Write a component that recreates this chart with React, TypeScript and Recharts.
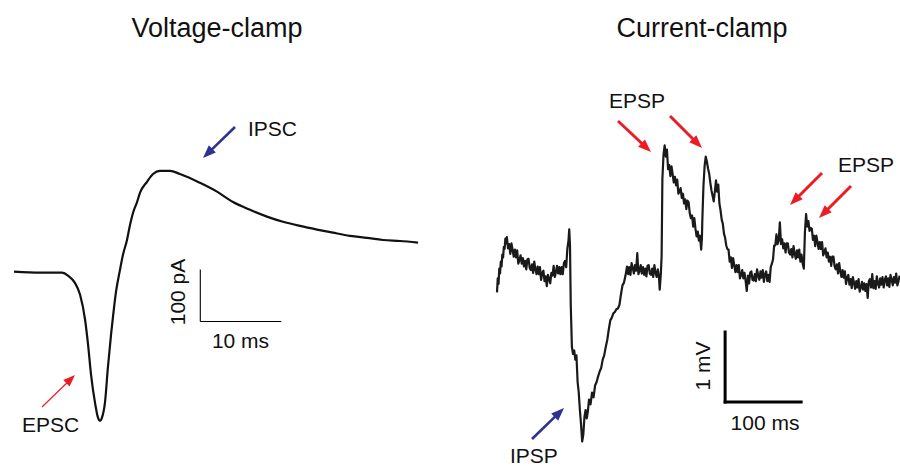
import React from 'react';
import { LineChart, Line, XAxis, YAxis, ReferenceLine } from 'recharts';

// Voltage-clamp trace: [time (ms), current (pA)]
const vcTrace: [number, number][] = [
  [0, 2], [3.2, 0], [5.9, 0], [6.7, -6], [7.5, -19], [8.15, -42], [8.77, -90], [9.14, -138],
  [9.51, -196], [10.0, -250], [10.37, -279], [10.62, -285], [10.86, -279], [11.23, -250],
  [11.6, -181], [11.98, -119], [12.22, -85], [12.59, -37], [13.09, 6], [13.46, 35], [13.95, 63],
  [14.32, 92], [14.69, 115], [15.19, 136], [15.56, 154], [16.42, 175], [17.16, 190], [18.02, 196],
  [19.26, 196], [20.49, 190], [22.96, 173], [25.06, 156], [27.04, 136], [29.14, 121], [31.23, 108],
  [33.21, 98], [35.31, 90], [37.41, 83], [39.38, 77], [41.48, 71], [43.58, 67], [45.56, 63],
  [47.65, 61], [49.88, 58],
];

// Current-clamp trace: [time (ms), membrane potential change (mV)]
const ccTrace: [number, number][] = [
  [0, -0.32], [1, -0.12], [2, -0.2], [3, 0.02], [4, -0.05], [5, 0.12], [6, 0.05], [7, 0.22], [8, 0.18], [9, 0.33], [10, 0.3], [11, 0.45], [12, 0.38],
  [13, 0.47], [14.5, 0.31], [16, 0.37], [17.5, 0.23], [19, 0.38], [20.5, 0.29], [22, 0.19], [23.5, 0.29], [25, 0.18], [26.5, 0.28], [28, 0.09], [29.5, 0.14], [31, 0.21], [32.5, 0.09], [34, 0.17], [35.5, 0.05], [37, 0.13], [38.5, 0.01], [40, 0.15], [41.5, 0.16], [43, 0.03], [44.5, 0.0], [46, 0.08], [47.5, -0.04], [49, 0.12], [50.5, 0.01], [52, -0.06], [53.5, 0.05], [55, -0.06], [56.5, 0.04], [58, -0.14], [59.5, -0.04], [61, -0.01], [62.5, -0.16], [64, -0.09], [65.5, -0.23], [67, -0.07], [68.5, -0.13], [70, -0.19], [71.5, -0.04], [73, -0.08], [74.5, 0.06], [76, -0.1], [77.5, -0.03], [79, 0.06], [80.5, -0.05], [82, 0.04], [83.5, -0.06], [85, 0.04], [86.5, -0.06], [88, 0.1], [89.5, 0.13], [91, 0.04], [92.5, 0.3], [94, 0.42], [95, 0.58], [96, 0.35],
  [97, -0.5], [98.5, -1.1], [100, -1.2], [101.5, -1.15], [103, -1.28], [104.5, -1.22], [106, -1.6], [107.5, -1.75], [109, -2.0], [110.5, -2.2], [112, -2.45], [113.5, -2.35], [115, -2.1], [116.5, -2.0], [118, -2.12], [119.5, -2.02], [121, -1.85], [123, -1.92], [125, -1.75], [127, -1.82], [129, -1.65], [131, -1.6], [133, -1.52], [135, -1.45], [137, -1.4], [139, -1.28], [141, -1.22], [143, -1.1], [145, -1.0], [147, -0.85], [149, -0.72], [151, -0.68], [153, -0.62], [155, -0.6], [157, -0.56], [159, -0.55], [161, -0.5], [163, -0.35], [165, -0.22], [167, -0.18], [169, -0.08],
  [171, 0.05], [172.5, -0.06], [174, 0.04], [175.5, -0.07], [177, 0.1], [178.5, 0.03], [180, -0.05], [181.5, 0.07], [183, -0.01], [184.5, 0.24], [186, -0.06], [187.5, -0.01], [189, 0.07], [190.5, -0.05], [192, 0.04], [193.5, -0.07], [195, 0.02], [196.5, -0.09], [198, 0.06], [199.5, 0.07], [201, -0.05], [202.5, -0.07], [204, 0.02], [205.5, -0.1], [207, 0.07], [208.5, -0.04], [210, -0.1], [211.5, 0.01], [213, -0.1], [214, -0.28], [215.5, -0.05], [216.5, 0.2],
  [217.5, 1.3], [219, 1.65], [220.5, 1.78], [222, 1.62], [223.5, 1.72], [225, 1.44], [226.5, 1.5], [228, 1.34], [229.5, 1.48], [231, 1.37], [232.5, 1.25], [234, 1.33], [235.5, 1.21], [237, 1.29], [238.5, 1.09], [240, 1.12], [241.5, 1.17], [243, 1.03], [244.5, 1.09], [246, 0.95], [247.5, 1.01], [249, 0.87], [250.5, 0.99], [252, 0.97], [253.5, 0.81], [255, 0.74], [256.5, 0.78], [258, 0.62], [259.5, 0.74], [261, 0.59], [262.5, 0.48], [264, 0.55], [265.5, 0.42], [267, 0.49], [268.5, 0.29], [269.5, 0.45],
  [270, 0.7], [271.5, 1.2], [273, 1.48], [274.5, 1.62], [276, 1.55], [277.5, 1.45], [279, 1.38], [280.5, 1.25], [282, 1.14], [283.5, 1.06], [285, 0.98], [286.5, 1.12], [288, 1.28], [289.5, 1.12], [291, 1.22], [292.5, 0.95], [294, 0.85], [295.5, 0.72], [297, 0.66], [298.5, 0.52], [300, 0.46], [301.5, 0.35], [303, 0.3],
  [304.5, 0.29], [306, 0.12], [307.5, 0.18], [309, 0.03], [310.5, 0.17], [312, 0.07], [313.5, -0.03], [315, 0.07], [316.5, -0.03], [318, 0.07], [319.5, -0.12], [321, -0.07], [322.5, 0.0], [324, -0.12], [325.5, -0.04], [327, -0.16], [328.5, -0.3], [330, -0.08], [331.5, -0.19], [333, -0.04], [334.5, -0.02], [336, -0.14], [337.5, -0.15], [339, -0.06], [340.5, -0.16], [342, 0.01], [343.5, -0.08], [345, -0.14], [346.5, -0.02], [348, -0.11], [349.5, 0.0], [351, -0.17], [352.5, -0.06], [354, -0.02], [355.5, -0.16], [357, -0.07], [358.5, -0.17], [360, 0.04],
  [361.5, 0.09], [363, 0.15], [364.5, 0.35], [366, 0.35], [367.5, 0.51], [369, 0.37], [370.5, 0.43], [372, 0.68], [373.5, 0.37], [375, 0.44], [376.5, 0.31], [378, 0.38], [379.5, 0.25], [381, 0.38], [382.5, 0.38], [384, 0.25], [385.5, 0.22], [387, 0.3], [388.5, 0.18], [390, 0.34], [391.5, 0.23], [393, 0.16], [394.5, 0.28], [396, 0.18], [397.5, 0.29], [399, 0.12], [400.5, 0.22], [402, 0.09], [403.5, 0.02],
  [405, 0.55], [406.5, 0.8], [408, 0.62], [409.5, 0.7], [411, 0.56], [412.5, 0.6],
  [414, 0.59], [415.5, 0.43], [417, 0.49], [418.5, 0.34], [420, 0.49], [421.5, 0.4], [423, 0.3], [424.5, 0.4], [426, 0.3], [427.5, 0.4], [429, 0.21], [430.5, 0.25], [432, 0.31], [433.5, 0.18], [435, 0.25], [436.5, 0.12], [438, 0.19], [439.5, 0.06], [441, 0.19], [442.5, 0.19], [444, 0.05], [445.5, 0.01], [447, 0.08], [448.5, -0.05], [450, 0.1], [451.5, -0.02], [453, -0.1], [454.5, 0.0], [456, -0.11], [457.5, -0.02], [459, -0.2], [460.5, -0.11], [462, -0.07], [463.5, -0.21], [465, -0.13], [466.5, -0.26], [468, -0.1], [469.5, -0.18], [471, -0.27], [472.5, -0.16], [474, -0.25], [475.5, -0.13], [477, -0.31], [478.5, -0.25], [480, -0.17], [481.5, -0.28], [483, -0.19], [484.5, -0.3], [486, -0.2], [487.5, -0.4], [489, -0.16], [490.5, -0.13], [492, -0.25], [493.5, -0.06], [495, -0.26], [496.5, -0.16], [498, -0.27], [499.5, -0.09], [501, -0.19], [502.5, -0.25], [504, -0.12], [505.5, -0.21], [507, -0.1], [508.5, -0.25], [510, -0.14], [511.5, -0.09], [513, -0.22], [514.5, -0.12], [516, -0.24], [517.5, -0.07], [519, -0.14], [520.5, -0.22], [522, -0.1], [523.5, -0.18], [525, -0.05], [526.5, -0.22], [528, -0.16], [529.5, -0.08],
];

// Scale bars: corner position and sizes in data units
const vcScaleBar = { t: 23, y: -94, lengthMs: 10, heightPa: 100 };
const ccScaleBar = { t: 300, y: -1.886, lengthMs: 100, heightMv: 1 };

const titles = ['Voltage-clamp', 'Current-clamp'];

const vcData = vcTrace.map(([t, v]) => ({ t, v }));
const ccData = ccTrace.map(([t, v]) => ({ t, v }));

const FONT = '"Liberation Sans", Arial, Helvetica, sans-serif';
const RED = '#ED1C24';
const BLUE = '#2E3192';

type ArrowProps = { x1: number; y1: number; x2: number; y2: number; color: string; width: number; head: number; headW: number };
function Arrow({ x1, y1, x2, y2, color, width, head, headW }: ArrowProps) {
  const dx = x2 - x1;
  const dy = y2 - y1;
  const len = Math.hypot(dx, dy);
  const ux = dx / len;
  const uy = dy / len;
  const bx = x2 - ux * head;
  const by = y2 - uy * head;
  const px = -uy;
  const py = ux;
  const pts = `${x2},${y2} ${bx + (px * headW) / 2},${by + (py * headW) / 2} ${bx - (px * headW) / 2},${by - (py * headW) / 2}`;
  return (
    <g>
      <line x1={x1} y1={y1} x2={bx + ux * 2} y2={by + uy * 2} stroke={color} strokeWidth={width} />
      <polygon points={pts} fill={color} />
    </g>
  );
}

export default function App() {
  return (
    <div style={{ position: 'absolute', left: 0, top: 0, width: 900, height: 466, overflow: 'hidden', background: '#fff' }}>
      <div style={{ position: 'absolute', left: 9, top: 143 }}>
        <LineChart width={415} height={301} data={vcData} margin={{ top: 5, right: 5, bottom: 5, left: 5 }}>
          <XAxis dataKey="t" type="number" domain={[0, 50]} hide />
          <YAxis type="number" domain={[-320, 240]} hide />
          <Line dataKey="v" type="monotone" stroke="#111" strokeWidth={2.2} dot={false} isAnimationActive={false} />
          <ReferenceLine
            segment={[{ x: vcScaleBar.t, y: vcScaleBar.y + vcScaleBar.heightPa }, { x: vcScaleBar.t, y: vcScaleBar.y }]}
            stroke="#000" strokeWidth={1.1} ifOverflow="visible"
          />
          <ReferenceLine
            segment={[{ x: vcScaleBar.t, y: vcScaleBar.y }, { x: vcScaleBar.t + vcScaleBar.lengthMs, y: vcScaleBar.y }]}
            stroke="#000" strokeWidth={1.1} ifOverflow="visible"
          />
        </LineChart>
      </div>
      <div style={{ position: 'absolute', left: 492, top: 125 }}>
        <LineChart width={413} height={325} data={ccData} margin={{ top: 5, right: 5, bottom: 5, left: 5 }}>
          <XAxis dataKey="t" type="number" domain={[0, 530]} hide />
          <YAxis type="number" domain={[-2.5, 2]} hide />
          <Line dataKey="v" type="linear" stroke="#1a1a1a" strokeWidth={2.2} strokeLinejoin="round" dot={false} isAnimationActive={false} />
          <ReferenceLine
            segment={[{ x: ccScaleBar.t, y: ccScaleBar.y + ccScaleBar.heightMv }, { x: ccScaleBar.t, y: ccScaleBar.y }]}
            stroke="#000" strokeWidth={3} strokeLinecap="square" ifOverflow="visible"
          />
          <ReferenceLine
            segment={[{ x: ccScaleBar.t, y: ccScaleBar.y }, { x: ccScaleBar.t + ccScaleBar.lengthMs, y: ccScaleBar.y }]}
            stroke="#000" strokeWidth={3} strokeLinecap="square" ifOverflow="visible"
          />
        </LineChart>
      </div>
      <svg width={900} height={466} style={{ position: 'absolute', left: 0, top: 0, pointerEvents: 'none' }} fontFamily={FONT}>
        <text x={217} y={37} fontSize={27} textAnchor="middle" fill="#111">{titles[0]}</text>
        <text x={702} y={37} fontSize={27} textAnchor="middle" fill="#111">{titles[1]}</text>

        <Arrow x1={235} y1={127} x2={203} y2={158} color={BLUE} width={2.6} head={13} headW={10} />
        <text x={248} y={136} fontSize={21} fill="#111">IPSC</text>

        <Arrow x1={42} y1={407} x2={75} y2={375} color={RED} width={1.2} head={12} headW={9} />
        <text x={22} y={432} fontSize={21} fill="#111">EPSC</text>

        <text x={240.5} y={348} fontSize={21} textAnchor="middle" fill="#111">10 ms</text>
        <text transform="translate(185,292) rotate(-90)" fontSize={21} textAnchor="middle" fill="#111">100 pA</text>

        <text x={609} y={108} fontSize={21} fill="#111">EPSP</text>
        <Arrow x1={618} y1={121} x2={651} y2={152} color={RED} width={3} head={13} headW={10} />
        <Arrow x1={670} y1={116} x2={702} y2={148} color={RED} width={3} head={13} headW={10} />

        <text x={838} y={172} fontSize={21} fill="#111">EPSP</text>
        <Arrow x1={822} y1={173} x2={790} y2={205} color={RED} width={3} head={13} headW={10} />
        <Arrow x1={851} y1={186} x2={819} y2={218} color={RED} width={3} head={13} headW={10} />

        <Arrow x1={532} y1={439} x2={564} y2={408} color={BLUE} width={2.6} head={13} headW={10} />
        <text x={510} y={463} fontSize={21} fill="#111">IPSP</text>

        <text x={765} y={430} fontSize={21} textAnchor="middle" fill="#111">100 ms</text>
        <text transform="translate(710,366) rotate(-90)" fontSize={21} textAnchor="middle" fill="#111">1 mV</text>
      </svg>
    </div>
  );
}
